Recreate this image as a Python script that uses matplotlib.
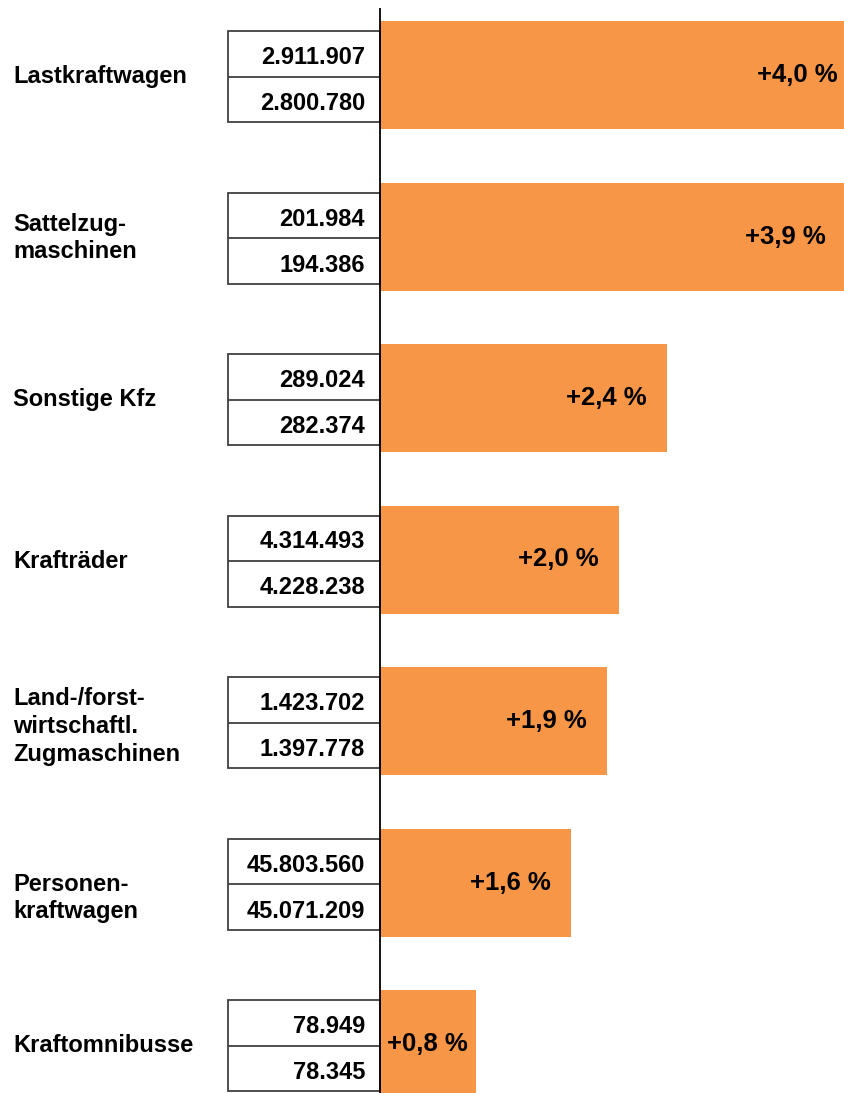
import numpy as np
import matplotlib
matplotlib.use('Agg')
from matplotlib import pyplot as plt
from matplotlib.patches import Rectangle

categories = ['Lastkraftwagen', 'Sattelzug-\nmaschinen', 'Sonstige Kfz', 'Krafträder',
              'Land-/forst-\nwirtschaftl.\nZugmaschinen', 'Personen-\nkraftwagen', 'Kraftomnibusse']
stock_new = [2911907, 201984, 289024, 4314493, 1423702, 45803560, 78949]
stock_old = [2800780, 194386, 282374, 4228238, 1397778, 45071209, 78345]
change_pct = [4.0, 3.9, 2.4, 2.0, 1.9, 1.6, 0.8]

plt.rcParams['font.family'] = ['Liberation Sans', 'DejaVu Sans']

W, H = 845, 1093
px_x = 119.5   # pixels per percent
px_y = 161.5   # pixels per category
x0, y0 = 380, 75

fig = plt.figure(figsize=(W / 100, H / 100), dpi=100)
ax = fig.add_axes([0, 0, 1, 1])
ax.set_xlim(-x0 / px_x, (W - x0) / px_x)
ax.set_ylim((H - y0) / px_y, -y0 / px_y)
ax.axis('off')

def de_int(v):
    return f'{v:,}'.replace(',', '.')

def de_pct(v):
    return f'+{v:.1f} %'.replace('.', ',')

# small vertical nudges (px) of the category labels as in the original
label_nudge = {4: 4, 5: 14}

ypos = np.arange(len(categories))
ax.barh(ypos, change_pct, height=108 / px_y, color='#F79646', zorder=1)

# axis line
ax.vlines(0, (8 - y0) / px_y, (H - y0) / px_y, color='black', lw=1.3, zorder=3)

box_w = 152 / px_x
half = 45.5 / px_y
for i, y in enumerate(ypos):
    yc = y + 1.5 / px_y
    ax.add_patch(Rectangle((-box_w, yc - half), box_w, 2 * half, fill=False,
                           edgecolor='#404040', lw=1.3, zorder=2))
    ax.hlines(yc, -box_w, 0, color='#404040', lw=1.3, zorder=2)
    ax.text(-15 / px_x, y - 11 / px_y, de_int(stock_new[i]), ha='right', va='baseline',
            fontsize=17, fontweight='bold')
    ax.text(-15 / px_x, y + 35 / px_y, de_int(stock_old[i]), ha='right', va='baseline',
            fontsize=17, fontweight='bold')
    ax.text(-(x0 - 13) / px_x, y + (1.5 + label_nudge.get(i, 0)) / px_y, categories[i],
            ha='left', va='center', fontsize=17, fontweight='bold', linespacing=1.27)
    v = change_pct[i]
    if v < 1:
        ax.text(v / 2, y, de_pct(v), ha='center', va='center', fontsize=18.5, fontweight='bold', zorder=4)
    else:
        ax.text(v - 20 / px_x, y, de_pct(v), ha='right', va='center', fontsize=18.5, fontweight='bold', zorder=4)

fig.savefig('out.png', dpi=100)
